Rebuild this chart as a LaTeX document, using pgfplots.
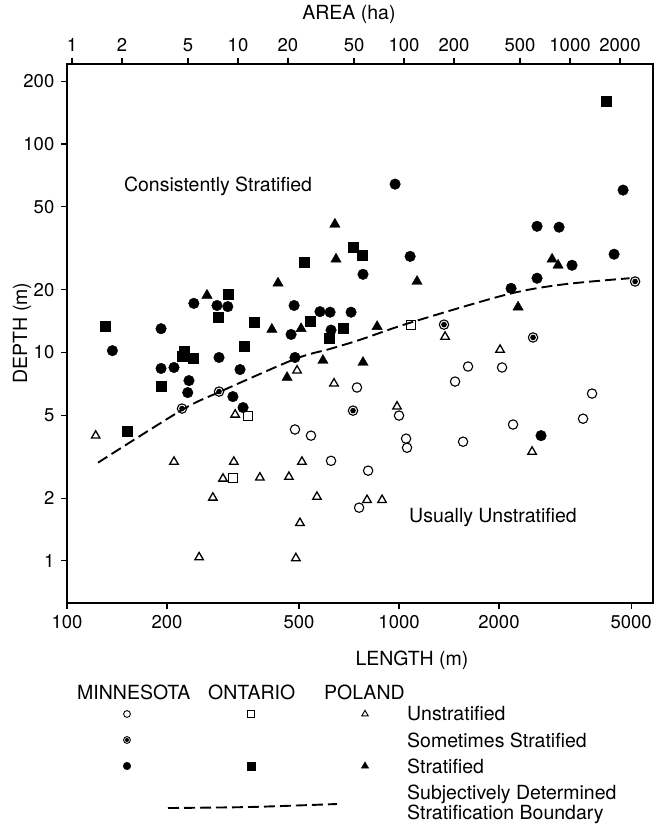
\documentclass[border=0pt]{standalone}
\usepackage{pgfplots}
\pgfplotsset{compat=1.18}
\usepackage{fontspec}
\setmainfont{TeX Gyre Heros}
\pgfdeclareplotmark{cdot}{%
  \pgfpathcircle{\pgfpoint{0pt}{0pt}}{\pgfplotmarksize}\pgfusepathqstroke
  \pgfpathcircle{\pgfpoint{0pt}{0pt}}{0.6\pgfplotmarksize}\pgfusepathqfill}
\pgfplotsset{
  mnU/.style={only marks, mark=o, mark size=4.7pt, mark options={line width=1.1pt, fill=white}},
  mnS/.style={only marks, mark=cdot, mark size=4.7pt, mark options={line width=1.1pt}},
  mnF/.style={only marks, mark=*, mark size=5.3pt},
  onU/.style={only marks, mark=square, mark size=4.5pt, mark options={line width=1.1pt, fill=white}},
  onF/.style={only marks, mark=square*, mark size=5pt},
  plU/.style={only marks, mark=triangle, mark size=4.9pt, mark options={line width=1.3pt}},
  plF/.style={only marks, mark=triangle*, mark size=6pt},
  bnd/.style={no marks, smooth, line width=1.9pt, dash pattern=on 11pt off 5pt},
}
\begin{document}
\begin{tikzpicture}
\fontsize{19.5}{22}\selectfont
% main axis
\begin{axis}[
  at={(67pt,-603pt)}, anchor=south west,
  width=586pt, height=539pt, scale only axis,
  xmode=log, ymode=log,
  xmin=100, xmax=5820, ymin=0.628, ymax=242,
  xtick={100,200,500,1000,2000,5000},
  xticklabels={100,200,500,1000,2000,5000},
  ytick={1,2,5,10,20,50,100,200},
  yticklabels={1,2,5,10,20,50,100,200},
  xminorticks=false, yminorticks=false,
  tick pos=left, tick align=outside,
  major tick length=6pt,
  axis line style={line width=1.4pt},
  every tick/.style={line width=1.2pt, black},
  /pgf/number format/assume math mode=true,
  tick label style={font=\fontsize{18.5}{20}\selectfont},
  clip=false,
]
% Minnesota stratified
\addplot[mnF] coordinates {(137,10.2)(192,13.0)(241,17.2)(283,16.8)(305,16.6)(483,16.8)(578,15.7)(620,15.6)(717,15.6)(473,12.2)(624,12.8)(287,9.46)(486,9.46)(192,8.38)(210,8.47)(332,8.28)(233,7.33)(231,6.42)(316,6.14)(339,5.44)(779,23.7)(973,64.2)(1080,28.9)(2175,20.3)(2604,22.7)(2604,40.3)(3034,39.9)(3320,26.2)(4443,29.6)(4729,60.1)(2677,3.99)};
% Minnesota sometimes stratified
\addplot[mnS] coordinates {(287,6.49)(222,5.38)(1366,13.6)(2533,11.8)(727,5.26)(5140,21.9)};
% Minnesota unstratified
\addplot[mnU] coordinates {(486,4.27)(543,3.99)(624,3.02)(747,6.79)(1000,4.98)(807,2.71)(758,1.80)(1050,3.86)(1057,3.49)(1475,7.25)(1614,8.56)(2043,8.47)(1559,3.73)(2205,4.51)(3583,4.81)(3814,6.35)};
% Ontario stratified
\addplot[onF] coordinates {(130,13.3)(152,4.17)(192,6.86)(225,10.1)(223,9.56)(240,9.36)(305,19.0)(285,14.7)(366,13.9)(341,10.7)(517,27.1)(540,14.2)(678,13.0)(615,11.7)(727,32.0)(774,29.3)(4203,161)};
% Ontario unstratified
\addplot[onU] coordinates {(351,4.98)(316,2.51)(1087,13.5)};
% Poland stratified
\addplot[plF] coordinates {(264,18.8)(414,12.9)(432,21.5)(507,13.0)(460,7.58)(590,9.15)(641,41.2)(646,28.0)(859,13.3)(779,8.95)(1133,21.9)(2283,16.5)(2890,28.0)(3013,26.2)};
% Poland unstratified
\addplot[plU] coordinates {(122,3.99)(210,2.99)(318,2.99)(510,2.99)(295,2.48)(381,2.51)(466,2.53)(275,2.01)(566,2.03)(503,1.52)(250,1.04)(489,1.03)(321,5.03)(493,8.19)(637,7.10)(986,5.50)(1376,11.9)(2015,10.3)(2516,3.34)(801,1.96)(889,1.96)};
% boundary
\addplot[bnd] coordinates {(124,2.96)(222,5.3)(287,6.45)(486,9.3)(620,10.4)(763,11.5)(1082,13.9)(2120,19.0)(3119,21.2)(4950,22.7)};
\end{axis}
% area axis on top
\begin{axis}[
  at={(67pt,-603pt)}, anchor=south west,
  width=586pt, height=539pt, scale only axis,
  xmode=log, xmin=0.933, xmax=3161, ymin=0, ymax=1,
  axis x line*=top, hide y axis,
  xtick={1,2,5,10,20,50,100,200,500,1000,2000},
  xticklabels={1,2,5,10,20,50,100,200,500,1000,2000},
  xminorticks=false, tick align=outside, major tick length=6pt,
  axis line style={line width=1.4pt},
  every tick/.style={line width=1.2pt, black},
  /pgf/number format/assume math mode=true,
  tick label style={font=\fontsize{18.5}{20}\selectfont},
]
\addplot[draw=none] coordinates {(1,0.5)};
\end{axis}
% overlay axis for labels and legend (pixel coordinates)
\begin{axis}[
  at={(0pt,-825pt)}, anchor=south west,
  width=657pt, height=825pt, scale only axis,
  xmin=0, xmax=657, ymin=-825, ymax=0,
  hide axis, clip=false,
]
\node[font=\fontsize{19.5}{22}\selectfont] at (axis cs:349,-14) {AREA (ha)};
\node[font=\fontsize{19.5}{22}\selectfont] at (axis cs:412,-660) {LENGTH (m)};
\node[font=\fontsize{19.5}{22}\selectfont, rotate=90] at (axis cs:22,-333) {DEPTH (m)};
\node[font=\fontsize{19.5}{22}\selectfont] at (axis cs:218,-186) {Consistently Stratified};
\node[font=\fontsize{19.5}{22}\selectfont] at (axis cs:493,-517) {Usually Unstratified};
\node[font=\fontsize{19.5}{22}\selectfont, anchor=west, inner sep=0pt] at (axis cs:77,-692) {MINNESOTA};
\node[font=\fontsize{19.5}{22}\selectfont, anchor=west, inner sep=0pt] at (axis cs:208,-692) {ONTARIO};
\node[font=\fontsize{19.5}{22}\selectfont, anchor=west, inner sep=0pt] at (axis cs:324,-692) {POLAND};
\node[font=\fontsize{19.5}{22}\selectfont, anchor=west, inner sep=0pt] at (axis cs:407,-714) {Unstratified};
\node[font=\fontsize{19.5}{22}\selectfont, anchor=west, inner sep=0pt] at (axis cs:407,-740) {Sometimes Stratified};
\node[font=\fontsize{19.5}{22}\selectfont, anchor=west, inner sep=0pt] at (axis cs:407,-766) {Stratified};
\node[font=\fontsize{19.5}{22}\selectfont, anchor=west, inner sep=0pt] at (axis cs:407,-794) {Subjectively Determined};
\node[font=\fontsize{19.5}{22}\selectfont, anchor=west, inner sep=0pt] at (axis cs:407,-814) {Stratification Boundary};
\addplot[only marks, mark=o, mark size=3.4pt, mark options={line width=0.9pt}] coordinates {(127,-714)};
\addplot[only marks, mark=square, mark size=3.4pt, mark options={line width=0.9pt}] coordinates {(251,-714)};
\addplot[only marks, mark=triangle, mark size=3.7pt, mark options={line width=0.9pt}] coordinates {(365,-714)};
\addplot[only marks, mark=cdot, mark size=3.4pt, mark options={line width=0.9pt}] coordinates {(127,-740)};
\addplot[only marks, mark=*, mark size=3.8pt] coordinates {(127,-766)};
\addplot[only marks, mark=square*, mark size=3.8pt] coordinates {(251,-766)};
\addplot[only marks, mark=triangle*, mark size=4.2pt] coordinates {(365,-766)};
\addplot[bnd] coordinates {(168,-808)(250,-807)(337,-804)};
\end{axis}
\pgfresetboundingbox
\path[use as bounding box] (0pt,0pt) rectangle (657pt,-825pt);
\end{tikzpicture}
\end{document}
